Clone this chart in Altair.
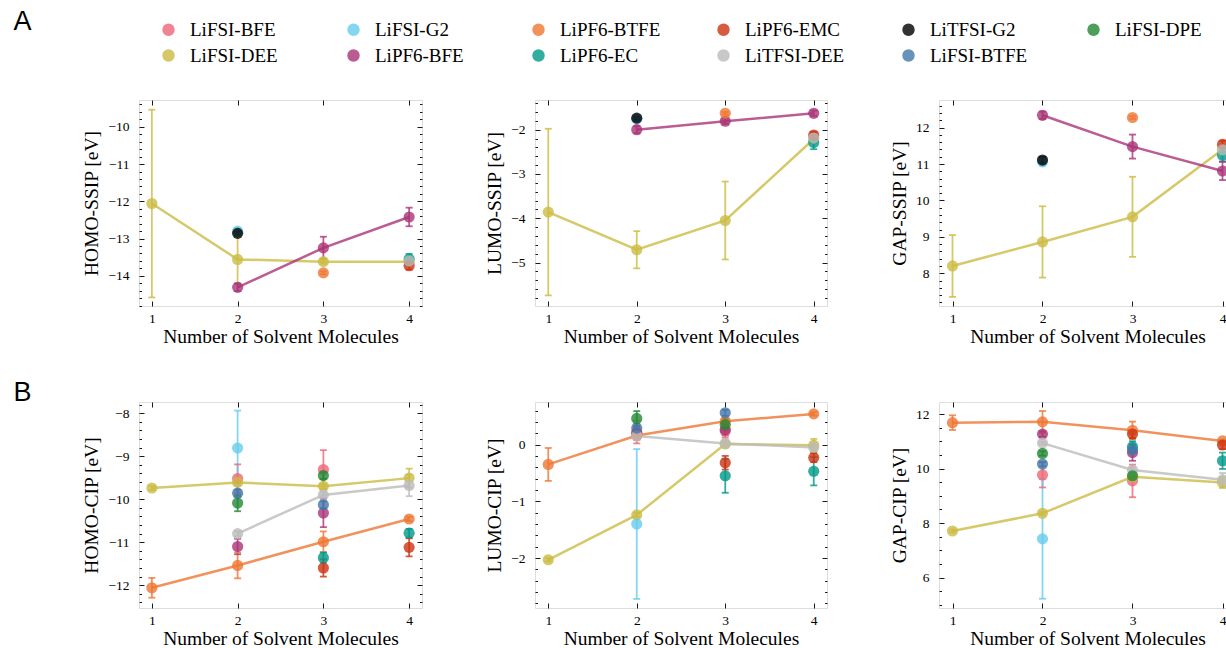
import altair as alt
import pandas as pd

# ---------------- series, colours, order ----------------
SERIES = ["LiFSI-BFE", "LiFSI-DEE", "LiFSI-G2", "LiPF6-BFE", "LiPF6-BTFE", "LiPF6-EC",
          "LiPF6-EMC", "LiTFSI-DEE", "LiTFSI-G2", "LiFSI-BTFE", "LiFSI-DPE"]
COLORS = {"LiFSI-BFE": "#EE6677", "LiFSI-G2": "#66CCEE", "LiPF6-BTFE": "#EE7733",
          "LiPF6-EMC": "#CC3311", "LiTFSI-G2": "#000000", "LiFSI-DPE": "#228833",
          "LiFSI-DEE": "#CCBB44", "LiPF6-BFE": "#AA3377", "LiPF6-EC": "#009988",
          "LiTFSI-DEE": "#BBBBBB", "LiFSI-BTFE": "#4477AA"}

# ---------------- SSIP data ----------------
SSIP_X = {"LiFSI-DEE": [1, 2, 3, 4], "LiFSI-G2": [2], "LiPF6-BFE": [2, 3, 4], "LiPF6-BTFE": [3],
          "LiPF6-EC": [4], "LiPF6-EMC": [4], "LiTFSI-DEE": [4], "LiTFSI-G2": [2]}
SSIP_HOMO = {"LiFSI-DEE": [-12.06, -13.56, -13.62, -13.62], "LiFSI-G2": [-12.80],
             "LiPF6-BFE": [-14.31, -13.25, -12.42], "LiPF6-BTFE": [-13.92], "LiPF6-EC": [-13.55],
             "LiPF6-EMC": [-13.73], "LiTFSI-DEE": [-13.60], "LiTFSI-G2": [-12.86]}
SSIP_HOMO_ERR = {"LiFSI-DEE": [2.52, 0.65, 0.06, 0.06], "LiFSI-G2": [0.08],
                 "LiPF6-BFE": [0.10, 0.30, 0.25], "LiPF6-BTFE": [0.04], "LiPF6-EC": [0.14],
                 "LiPF6-EMC": [0.10], "LiTFSI-DEE": [0.05], "LiTFSI-G2": [0.05]}
SSIP_LUMO = {"LiFSI-DEE": [-3.86, -4.71, -4.05, -2.21], "LiFSI-G2": [-1.76],
             "LiPF6-BFE": [-2.00, -1.81, -1.63], "LiPF6-BTFE": [-1.63], "LiPF6-EC": [-2.29],
             "LiPF6-EMC": [-2.12], "LiTFSI-DEE": [-2.19], "LiTFSI-G2": [-1.74]}
SSIP_LUMO_ERR = {"LiFSI-DEE": [1.88, 0.42, 0.88, 0.06], "LiFSI-G2": [0.03],
                 "LiPF6-BFE": [0.08, 0.06, 0.06], "LiPF6-BTFE": [0.03], "LiPF6-EC": [0.15],
                 "LiPF6-EMC": [0.07], "LiTFSI-DEE": [0.04], "LiTFSI-G2": [0.03]}
SSIP_GAP = {"LiFSI-DEE": [8.20, 8.86, 9.55, 11.40], "LiFSI-G2": [11.06],
            "LiPF6-BFE": [12.34, 11.48, 10.81], "LiPF6-BTFE": [12.28], "LiPF6-EC": [11.24],
            "LiPF6-EMC": [11.54], "LiTFSI-DEE": [11.39], "LiTFSI-G2": [11.11]}
SSIP_GAP_ERR = {"LiFSI-DEE": [0.85, 0.98, 1.10, 0.08], "LiFSI-G2": [0.10],
                "LiPF6-BFE": [0.10, 0.33, 0.25], "LiPF6-BTFE": [0.04], "LiPF6-EC": [0.17],
                "LiPF6-EMC": [0.10], "LiTFSI-DEE": [0.05], "LiTFSI-G2": [0.08]}
SSIP_LINED = ["LiFSI-DEE", "LiPF6-BFE"]

# ---------------- CIP data ----------------
CIP_X = {"LiFSI-BFE": [2, 3], "LiFSI-DEE": [1, 2, 3, 4], "LiFSI-G2": [2], "LiPF6-BFE": [2, 3],
         "LiPF6-BTFE": [1, 2, 3, 4], "LiPF6-EC": [3, 4], "LiPF6-EMC": [3, 4],
         "LiTFSI-DEE": [2, 3, 4], "LiFSI-BTFE": [2, 3], "LiFSI-DPE": [2, 3]}
CIP_HOMO = {"LiFSI-BFE": [-9.52, -9.31], "LiFSI-DEE": [-9.74, -9.61, -9.70, -9.51],
            "LiFSI-G2": [-8.81], "LiPF6-BFE": [-11.10, -10.32],
            "LiPF6-BTFE": [-12.06, -11.54, -10.99, -10.46], "LiPF6-EC": [-11.36, -10.79],
            "LiPF6-EMC": [-11.60, -11.12], "LiTFSI-DEE": [-10.80, -9.90, -9.68],
            "LiFSI-BTFE": [-9.86, -10.13], "LiFSI-DPE": [-10.09, -9.45]}
CIP_HOMO_ERR = {"LiFSI-BFE": [0.33, 0.45], "LiFSI-DEE": [0.05, 0.05, 0.05, 0.22],
                "LiFSI-G2": [0.87], "LiPF6-BFE": [0.18, 0.33],
                "LiPF6-BTFE": [0.23, 0.30, 0.24, 0.05], "LiPF6-EC": [0.12, 0.10],
                "LiPF6-EMC": [0.20, 0.21], "LiTFSI-DEE": [0.06, 0.06, 0.25],
                "LiFSI-BTFE": [0.08, 0.08], "LiFSI-DPE": [0.19, 0.08]}
CIP_LUMO = {"LiFSI-BFE": [0.22, 0.24], "LiFSI-DEE": [-2.03, -1.24, 0.01, -0.01],
            "LiFSI-G2": [-1.40], "LiPF6-BFE": [0.20, 0.26],
            "LiPF6-BTFE": [-0.35, 0.16, 0.41, 0.54], "LiPF6-EC": [-0.55, -0.47],
            "LiPF6-EMC": [-0.32, -0.23], "LiTFSI-DEE": [0.15, 0.02, -0.05],
            "LiFSI-BTFE": [0.29, 0.56], "LiFSI-DPE": [0.46, 0.35]}
CIP_LUMO_ERR = {"LiFSI-BFE": [0.20, 0.12], "LiFSI-DEE": [0.03, 0.04, 0.04, 0.11],
                "LiFSI-G2": [1.32], "LiPF6-BFE": [0.10, 0.10],
                "LiPF6-BTFE": [0.29, 0.08, 0.05, 0.03], "LiPF6-EC": [0.30, 0.25],
                "LiPF6-EMC": [0.12, 0.08], "LiTFSI-DEE": [0.05, 0.05, 0.05],
                "LiFSI-BTFE": [0.08, 0.05], "LiFSI-DPE": [0.13, 0.10]}
CIP_GAP = {"LiFSI-BFE": [9.77, 9.55], "LiFSI-DEE": [7.71, 8.36, 9.70, 9.49],
           "LiFSI-G2": [7.42], "LiPF6-BFE": [11.27, 10.59],
           "LiPF6-BTFE": [11.69, 11.72, 11.41, 11.02], "LiPF6-EC": [10.81, 10.29],
           "LiPF6-EMC": [11.27, 10.87], "LiTFSI-DEE": [10.94, 9.95, 9.59],
           "LiFSI-BTFE": [10.17, 10.69], "LiFSI-DPE": [10.56, 9.74]}
CIP_GAP_ERR = {"LiFSI-BFE": [0.46, 0.60], "LiFSI-DEE": [0.05, 0.05, 0.05, 0.20],
               "LiFSI-G2": [2.20], "LiPF6-BFE": [0.10, 0.30],
               "LiPF6-BTFE": [0.27, 0.40, 0.32, 0.05], "LiPF6-EC": [0.20, 0.30],
               "LiPF6-EMC": [0.15, 0.15], "LiTFSI-DEE": [0.05, 0.10, 0.25],
               "LiFSI-BTFE": [0.08, 0.08], "LiFSI-DPE": [0.08, 0.10]}
CIP_LINED = ["LiFSI-DEE", "LiPF6-BTFE", "LiTFSI-DEE"]

# ---------------- axes: domains and ticks ----------------
X_DOMAIN = [0.85, 4.15]
X_TICKS = [1, 2, 3, 4]
X_TITLE = "Number of Solvent Molecules"


def minor(lo, hi, step, major_step):
    out = []
    n = int(round((hi - lo) / step))
    for i in range(n + 1):
        v = round(lo + i * step, 4)
        if abs(v / major_step - round(v / major_step)) > 1e-6:
            out.append(v)
    return out


PANELS_A = [
    ("HOMO-SSIP [eV]", SSIP_HOMO, SSIP_HOMO_ERR, [-14.81, -9.28], [-14, -13, -12, -11, -10], minor(-14.8, -9.4, 0.2, 1)),
    ("LUMO-SSIP [eV]", SSIP_LUMO, SSIP_LUMO_ERR, [-5.98, -1.33], [-5, -4, -3, -2], minor(-5.8, -1.4, 0.2, 1)),
    ("GAP-SSIP [eV]", SSIP_GAP, SSIP_GAP_ERR, [7.10, 12.76], [8, 9, 10, 11, 12], minor(7.2, 12.6, 0.2, 1)),
]
PANELS_B = [
    ("HOMO-CIP [eV]", CIP_HOMO, CIP_HOMO_ERR, [-12.53, -7.74], [-12, -11, -10, -9, -8], minor(-12.4, -7.8, 0.2, 1)),
    ("LUMO-CIP [eV]", CIP_LUMO, CIP_LUMO_ERR, [-2.88, 0.75], [-2, -1, 0], minor(-2.8, 0.6, 0.2, 1)),
    ("GAP-CIP [eV]", CIP_GAP, CIP_GAP_ERR, [4.88, 12.45], [6, 8, 10, 12], minor(5.0, 12.0, 0.5, 2)),
]
WIDTHS = [283, 292, 297]
HEIGHT = 206

FONT = "Liberation Serif"
OP = 0.8
# legend fills column by column, so this order gives the two rows of the figure
cscale = alt.Scale(domain=SERIES, range=[COLORS[s] for s in SERIES])

LEGEND = alt.Legend(orient="none", legendX=20, legendY=-80, columns=6, title=None,
                    symbolType="circle", symbolSize=120, symbolOpacity=OP,
                    labelFont=FONT, labelFontSize=19, labelColor="#000",
                    labelOffset=12, columnPadding=53, rowPadding=6, gridAlign="all",
                    padding=0)


def make_df(xs, vals, errs):
    rows = []
    for s in SERIES:
        if s not in xs:
            continue
        for x, v, e in zip(xs[s], vals[s], errs[s]):
            rows.append({"series": s, "x": x, "val": v, "lo": v - e, "hi": v + e})
    return pd.DataFrame(rows)


def panel(xs, vals, errs, lined, ytitle, ydom, ymaj, ymin, W, with_legend):
    H = HEIGHT
    df = make_df(xs, vals, errs)
    xsc = alt.Scale(domain=X_DOMAIN, nice=False, zero=False)
    ysc = alt.Scale(domain=ydom, nice=False, zero=False)
    col = alt.Color("series:N", scale=cscale)

    tick_common = dict(labels=False, domain=False, grid=False, ticks=True, title=None,
                       tickColor="#000", tickWidth=0.9)
    ax_xlab = alt.Axis(orient="bottom", values=X_TICKS, format="d", ticks=False, tickSize=0,
                       domain=False, grid=False, labelFont=FONT, labelFontSize=13.5,
                       labelColor="#000", labelPadding=5, title=X_TITLE, titleFont=FONT,
                       titleFontSize=19.5, titleFontWeight="normal", titleColor="#000",
                       titlePadding=3)
    ax_xbot = alt.Axis(orient="top", offset=-H, values=X_TICKS, tickSize=5, **tick_common)
    ax_xtop = alt.Axis(orient="bottom", offset=-H, values=X_TICKS, tickSize=5, **tick_common)
    ax_ylab = alt.Axis(orient="left", values=ymaj, format="d", ticks=False, tickSize=0,
                       domain=False, grid=False, labelFont=FONT, labelFontSize=13.5,
                       labelColor="#000", labelPadding=10, title=ytitle, titleFont=FONT,
                       titleFontSize=19.5, titleFontWeight="normal", titleColor="#000",
                       titlePadding=6)
    ax_yl_maj = alt.Axis(orient="right", offset=-W, values=ymaj, tickSize=5, **tick_common)
    ax_yl_min = alt.Axis(orient="right", offset=-W, values=ymin, tickSize=2.5, **tick_common)
    ax_yr_maj = alt.Axis(orient="left", offset=-W, values=ymaj, tickSize=5, **tick_common)
    ax_yr_min = alt.Axis(orient="left", offset=-W, values=ymin, tickSize=2.5, **tick_common)

    layers = []
    if with_legend:
        # draws nothing; only carries the legend definition (first layer wins the merge)
        layers.append(alt.Chart(df).transform_filter("false").mark_point(
            filled=True, size=120, opacity=OP).encode(
            x=alt.X("x:Q", scale=xsc, axis=None),
            y=alt.Y("val:Q", scale=ysc, axis=None),
            color=alt.Color("series:N", scale=cscale, legend=LEGEND)))

    rules = alt.Chart(df).mark_rule(strokeWidth=1.8, opacity=OP).encode(
        x=alt.X("x:Q", scale=xsc, axis=ax_xlab),
        y=alt.Y("lo:Q", scale=ysc, axis=ax_ylab),
        y2="hi:Q", color=col)
    lows = alt.Chart(df).mark_tick(orient="horizontal", size=7, thickness=1.8, opacity=OP).encode(
        x=alt.X("x:Q", scale=xsc, axis=ax_xbot),
        y=alt.Y("lo:Q", scale=ysc, axis=ax_yl_maj), color=col)
    highs = alt.Chart(df).mark_tick(orient="horizontal", size=7, thickness=1.8, opacity=OP).encode(
        x=alt.X("x:Q", scale=xsc, axis=ax_xtop),
        y=alt.Y("hi:Q", scale=ysc, axis=ax_yl_min), color=col)
    line = alt.Chart(df[df["series"].isin(lined)]).mark_line(strokeWidth=2.5, opacity=OP).encode(
        x=alt.X("x:Q", scale=xsc, axis=None),
        y=alt.Y("val:Q", scale=ysc, axis=ax_yr_maj), color=col)
    pts = alt.Chart(df).mark_point(filled=True, size=125, opacity=OP).encode(
        x=alt.X("x:Q", scale=xsc, axis=None),
        y=alt.Y("val:Q", scale=ysc, axis=ax_yr_min), color=col)
    layers += [rules, lows, highs, line, pts]
    return alt.layer(*layers).resolve_axis(
        x="independent", y="independent").properties(width=W, height=H)


row_a = alt.hconcat(*[
    panel(SSIP_X, v, e, SSIP_LINED, t, d, mj, mn, WIDTHS[i], i == 0)
    for i, (t, v, e, d, mj, mn) in enumerate(PANELS_A)
], spacing=61).properties(title=alt.TitleParams(
    "A", anchor="start", font="Liberation Sans", fontSize=27, fontWeight="normal",
    color="#000", dx=-68, dy=-59))

row_b = alt.hconcat(*[
    panel(CIP_X, v, e, CIP_LINED, t, d, mj, mn, WIDTHS[i], False)
    for i, (t, v, e, d, mj, mn) in enumerate(PANELS_B)
], spacing=61).properties(title=alt.TitleParams(
    "B", anchor="start", font="Liberation Sans", fontSize=27, fontWeight="normal",
    color="#000", dx=-68, dy=10))

# autosize none: the origin is the first panel's plot corner; the figure is cut at 1226 px
chart = alt.vconcat(row_a, row_b, spacing=32).properties(
    autosize=alt.AutoSizeParams(type="none"),
    padding={"left": 139, "top": 100, "right": 1087, "bottom": 548}
).configure_view(stroke="#222", strokeWidth=1).configure(background="white")

chart.save("out.html", embed_options={"renderer": "svg", "actions": False})
